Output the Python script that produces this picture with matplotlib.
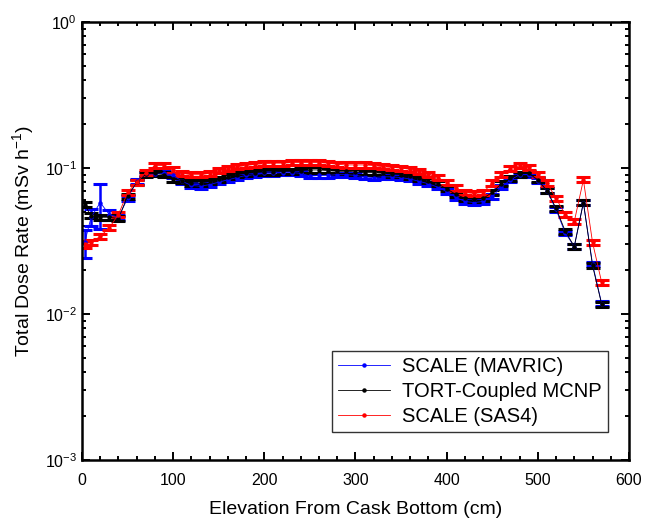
import matplotlib
matplotlib.use("Agg")
import matplotlib.pyplot as plt
from matplotlib.ticker import MultipleLocator, LogLocator, NullFormatter

plt.rcParams['font.family'] = ['Liberation Sans', 'DejaVu Sans']
plt.rcParams['mathtext.fontset'] = 'custom'
plt.rcParams['mathtext.rm'] = 'Liberation Sans'

elevation = [3] + list(range(10, 571, 10))

mavric = [0.031, 0.046, 0.058, 0.048, 0.046, 0.062, 0.081, 0.091, 0.091, 0.092,
          0.089, 0.081, 0.076, 0.075, 0.077, 0.080, 0.083, 0.086, 0.089, 0.090,
          0.092, 0.092, 0.093, 0.093, 0.092, 0.088, 0.089, 0.089, 0.090, 0.090,
          0.089, 0.087, 0.086, 0.087, 0.087, 0.086, 0.084, 0.081, 0.078, 0.074,
          0.069, 0.063, 0.059, 0.058, 0.059, 0.064, 0.074, 0.083, 0.090, 0.090,
          0.082, 0.070, 0.052, 0.036, 0.029, 0.058, 0.022, 0.0118]

tort = [0.056, 0.047, 0.046, 0.046, 0.045, 0.064, 0.080, 0.091, 0.092, 0.090,
        0.084, 0.082, 0.079, 0.079, 0.081, 0.084, 0.087, 0.090, 0.092, 0.093,
        0.094, 0.094, 0.095, 0.095, 0.096, 0.097, 0.097, 0.096, 0.095, 0.095,
        0.094, 0.093, 0.093, 0.092, 0.091, 0.090, 0.088, 0.085, 0.082, 0.078,
        0.072, 0.066, 0.062, 0.061, 0.062, 0.068, 0.078, 0.085, 0.091, 0.092,
        0.083, 0.070, 0.053, 0.037, 0.029, 0.058, 0.0215, 0.0117]

sas4 = [0.030, 0.031, 0.034, 0.039, 0.048, 0.068, 0.080, 0.093, 0.104, 0.104,
        0.097, 0.092, 0.090, 0.090, 0.092, 0.096, 0.099, 0.102, 0.104, 0.106,
        0.107, 0.108, 0.108, 0.109, 0.109, 0.109, 0.109, 0.108, 0.106, 0.105,
        0.105, 0.105, 0.104, 0.102, 0.101, 0.100, 0.098, 0.095, 0.091, 0.086,
        0.080, 0.073, 0.068, 0.067, 0.068, 0.079, 0.090, 0.099, 0.104, 0.101,
        0.091, 0.079, 0.062, 0.048, 0.043, 0.083, 0.031, 0.0165]

# relative statistical uncertainty, larger for the first MAVRIC points
mavric_rel = [0.22, 0.13, 0.34, 0.08] + [0.035] * 54
tort_rel = [0.04] * 58
sas4_rel = [0.06] + [0.04] * 57

series = [
    ('SCALE (MAVRIC)', mavric, mavric_rel, '#0000ff'),
    ('TORT-Coupled MCNP', tort, tort_rel, '#000000'),
    ('SCALE (SAS4)', sas4, sas4_rel, '#ff0000'),
]

fig = plt.figure(figsize=(6.58, 5.29), dpi=100)
ax = fig.add_axes([0.1246, 0.1304, 0.8313, 0.8280])

for label, vals, rel, col in series:
    err = [v * r for v, r in zip(vals, rel)]
    ax.errorbar(elevation, vals, yerr=err, color=col, lw=0.6, marker='o', ms=2.2,
                elinewidth=1.8, capsize=5, capthick=2.2, label=label)

ax.set_yscale('log')
ax.set_xlim(0, 600)
ax.set_ylim(1e-3, 1)
ax.xaxis.set_major_locator(MultipleLocator(100))
ax.xaxis.set_minor_locator(MultipleLocator(20))
ax.yaxis.set_minor_locator(LogLocator(base=10, subs=range(2, 10)))
ax.yaxis.set_minor_formatter(NullFormatter())

ax.tick_params(which='both', direction='in', top=True, right=True, labelsize=11.5, width=1.4)
ax.tick_params(which='major', length=6)
ax.tick_params(which='minor', length=3)
ax.tick_params(axis='x', pad=9)
for s in ax.spines.values():
    s.set_linewidth(1.8)

ax.set_xlabel('Elevation From Cask Bottom (cm)', fontsize=14, labelpad=10)
ax.set_ylabel('Total Dose Rate (mSv h$^{-1}$)', fontsize=14, labelpad=6)

handles, labels = ax.get_legend_handles_labels()
handles = [h[0] for h in handles]
leg = ax.legend(handles, labels, loc='lower right', bbox_to_anchor=(0.98, 0.04),
                fontsize=14.5, frameon=True, fancybox=False, edgecolor='black',
                handlelength=2.6, borderpad=0.3, labelspacing=0.3, handletextpad=0.6)
leg.get_frame().set_linewidth(1.0)

fig.savefig('out.png', dpi=100)
